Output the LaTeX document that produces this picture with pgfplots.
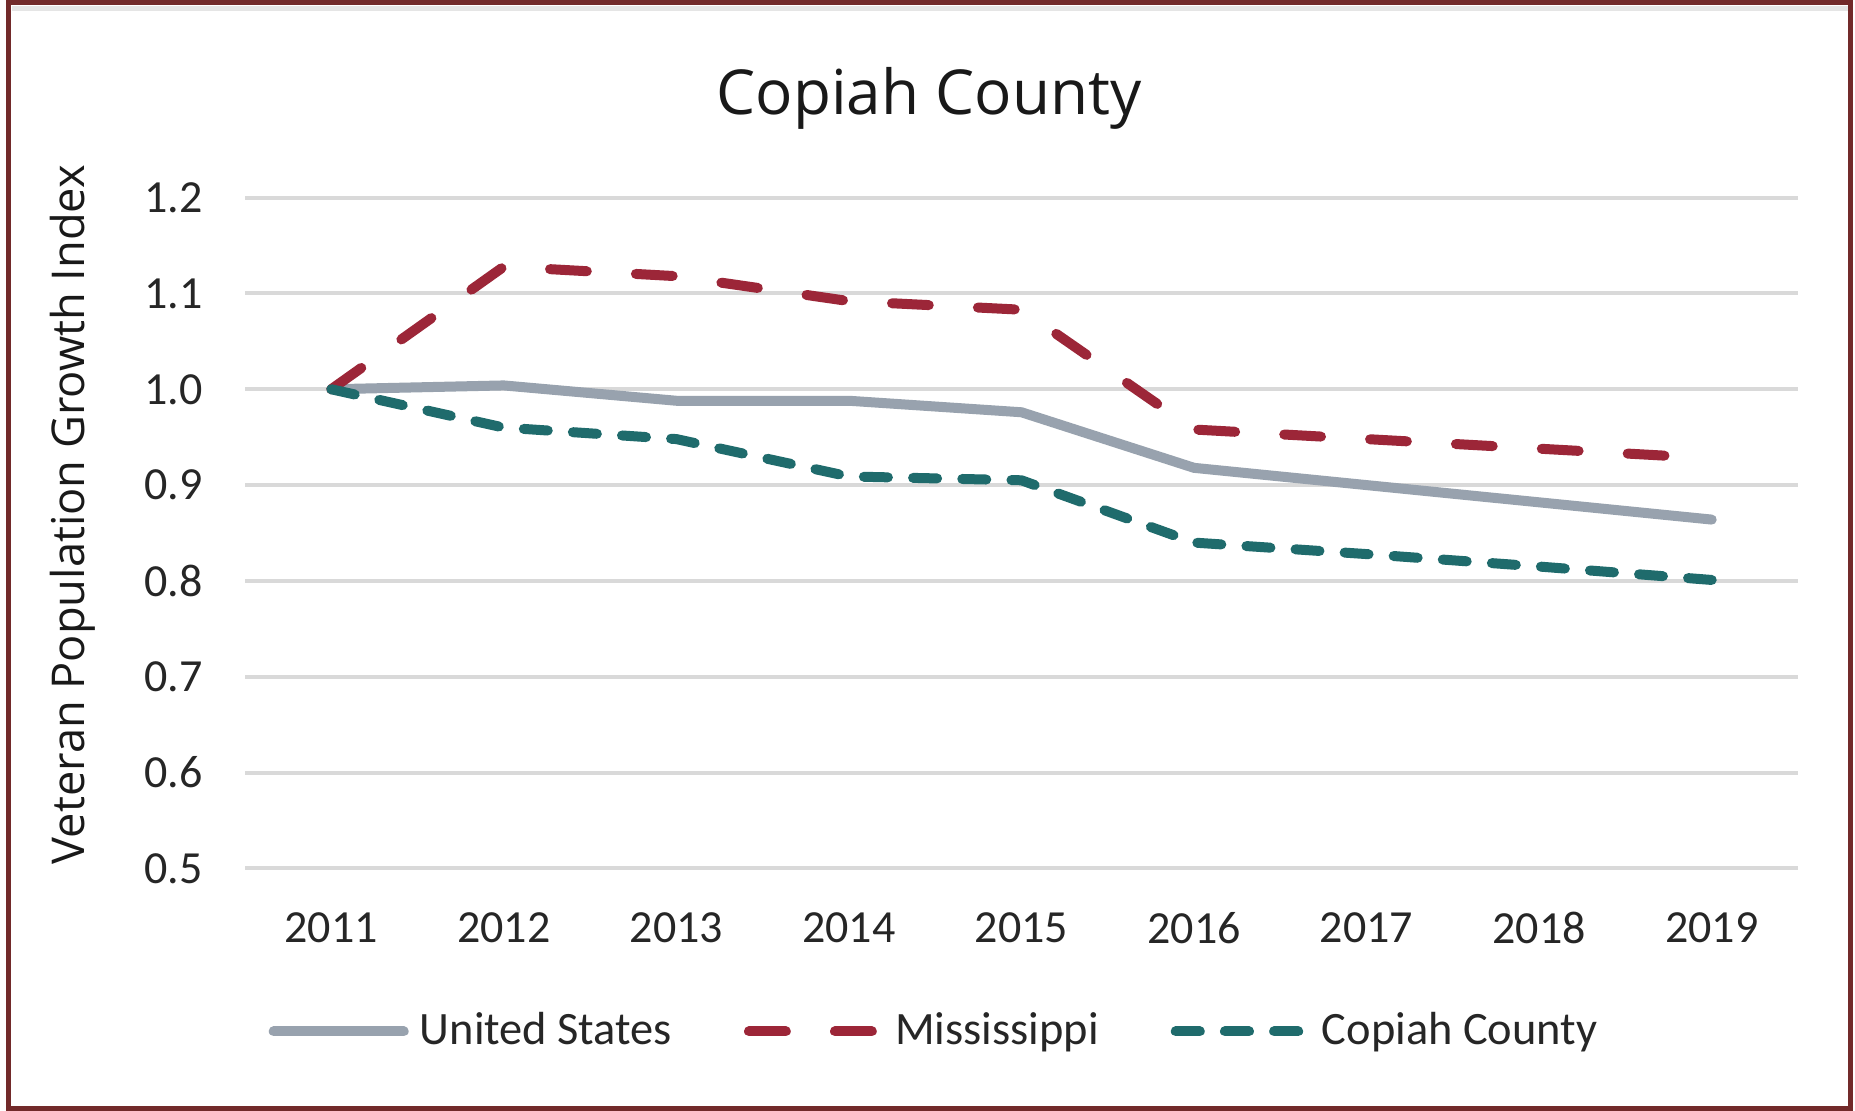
\documentclass[border=0pt]{standalone}
\usepackage{pgfplots}
\pgfplotsset{compat=1.18}
\usepackage{fontspec}
\setmainfont{Carlito}
\newfontfamily\titlefont{Open Sans}
\definecolor{usgray}{HTML}{98A2AE}
\definecolor{msred}{HTML}{9C2638}
\definecolor{copteal}{HTML}{1F6B6C}
\definecolor{bordred}{HTML}{722A2A}
\definecolor{gridgray}{HTML}{D9D9D9}
\begin{document}
\begin{tikzpicture}
\useasboundingbox (0,0) rectangle (463.75bp,277.75bp);
\fill[white] (0,0) rectangle (463.75bp,277.75bp);
\draw[black!10, line width=1.2bp] (3bp,275.6bp) -- (462bp,275.6bp);
\draw[bordred, line width=1.3bp] (2.1bp,0.5bp) rectangle (462.6bp,277.1bp);
\begin{axis}[
  at={(61.25bp,60.65bp)}, anchor=south west,
  scale only axis, width=388.25bp, height=167.7bp,
  xmin=2010.5, xmax=2019.5, ymin=0.5, ymax=1.2,
  xtick={2011,2012,2013,2014,2015,2016,2017,2018,2019},
  xticklabels={2011,2012,2013,2014,2015,2016,2017,2018,2019},
  ytick={0.5,0.6,0.7,0.8,0.9,1.0,1.1,1.2},
  yticklabels={0.5,0.6,0.7,0.8,0.9,1.0,1.1,1.2},
  axis line style={draw=none},
  tick style={draw=none},
  major tick length=0pt,
  ymajorgrids,
  grid style={gridgray, line width=1bp},
  xticklabel style={font=\fontsize{11.5bp}{13bp}\selectfont, anchor=north, inner sep=0pt, text=black!85},
  yticklabel style={font=\fontsize{11.5bp}{13bp}\selectfont, anchor=east, inner sep=0pt, text=black!85},
  xticklabel shift=10.8bp,
  yticklabel shift=10.4bp,
  clip=false,
  legend columns=3,
  legend style={
    at={(0.4456,-0.243)}, anchor=center,
    draw=none, fill=none,
    font=\fontsize{11.6bp}{13bp}\selectfont,
    text=black!85,
    column sep=0.8bp,
    /tikz/every even column/.append style={column sep=16bp},
  },
  legend cell align=left,
  legend image code/.code={\draw[#1] (0bp,0bp) -- (32.5bp,0bp);},
]
\addplot[usgray, line width=2.5bp, line join=round, line cap=round] coordinates {
(2011,1.000) (2012,1.004) (2013,0.988) (2014,0.988) (2015,0.976) (2016,0.918) (2017,0.900) (2018,0.882) (2019,0.864)};
\addlegendentry{United States}
\addplot[msred, line width=2.5bp, line join=round, line cap=round, dash pattern=on 9.2bp off 12.3bp] coordinates {
(2011,1.000) (2012,1.128) (2013,1.118) (2014,1.092) (2015,1.083) (2016,0.958) (2017,0.948) (2018,0.938) (2019,0.928)};
\addlegendentry{Mississippi}
\addplot[copteal, line width=2.5bp, line join=round, line cap=round, dash pattern=on 6bp off 6.3bp] coordinates {
(2011,1.000) (2012,0.960) (2013,0.948) (2014,0.909) (2015,0.905) (2016,0.840) (2017,0.828) (2018,0.815) (2019,0.801)};
\addlegendentry{Copiah County}
\end{axis}
\node[anchor=base, font=\titlefont\fontsize{15.5bp}{18bp}\selectfont, text=black!90] at (232.25bp,249bp) {Copiah County};
\node[rotate=90, anchor=base, font=\titlefont\fontsize{11.3bp}{13bp}\selectfont, text=black!90] at (21.2bp,149.1bp) {Veteran Population Growth Index};
\end{tikzpicture}
\end{document}
